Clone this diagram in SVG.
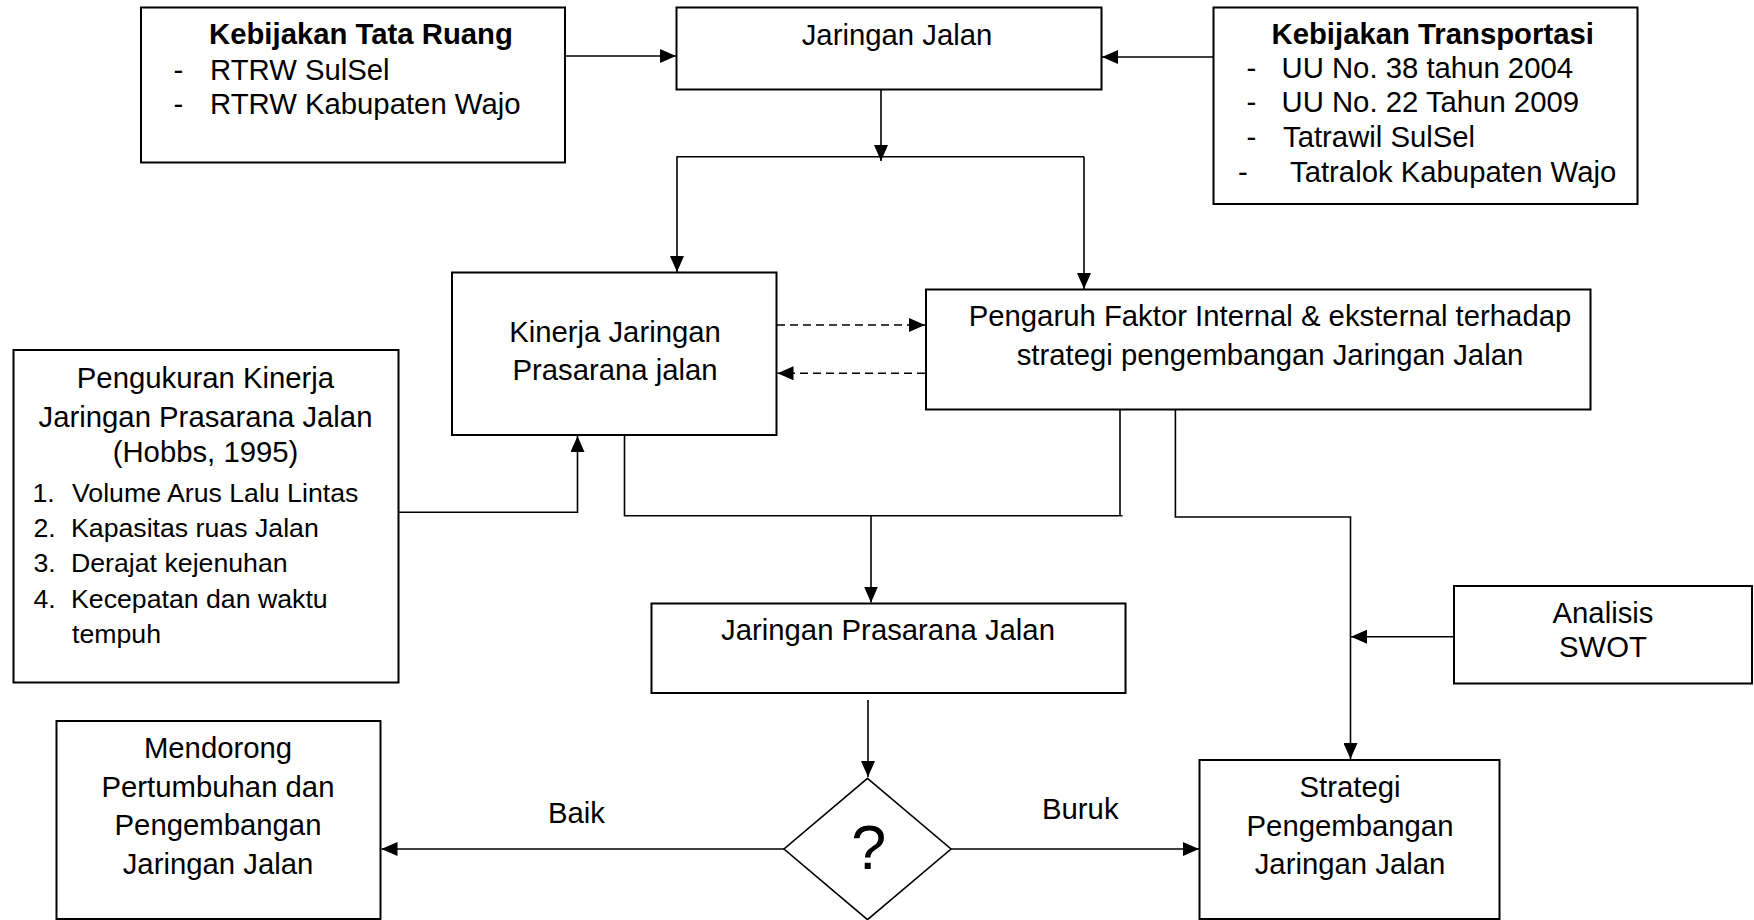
<svg xmlns="http://www.w3.org/2000/svg" width="1754" height="920" viewBox="0 0 1754 920">
<style>
.box{fill:#fff;stroke:#000;stroke-width:2}
.t{font-family:"Liberation Sans",Arial,sans-serif;font-size:29.3px;fill:#000}
.b{font-weight:bold}
.s{font-size:26.7px}
.m{text-anchor:middle}
.c{fill:none;stroke:#000;stroke-width:1.6}
.d{stroke-dasharray:8 5}
</style>
<defs>
<marker id="ah" markerUnits="userSpaceOnUse" markerWidth="16" markerHeight="14" refX="16" refY="7" orient="auto">
<path d="M0,0 L16,7 L0,14 z" fill="#000"/>
</marker>
</defs>
<rect width="1754" height="920" fill="#fff"/>
<g id="connectors">
<line class="c" x1="566" y1="56" x2="676" y2="56" marker-end="url(#ah)"/>
<line class="c" x1="1213" y1="57" x2="1102" y2="57" marker-end="url(#ah)"/>
<line class="c" x1="881" y1="90" x2="881" y2="161" marker-end="url(#ah)"/>
<line class="c" x1="676.5" y1="156.7" x2="1084" y2="156.7"/>
<line class="c" x1="677" y1="156.7" x2="677" y2="272" marker-end="url(#ah)"/>
<line class="c" x1="1084" y1="156.7" x2="1084" y2="289" marker-end="url(#ah)"/>
<line class="c d" x1="777" y1="325" x2="925" y2="325" marker-end="url(#ah)"/>
<line class="c d" x1="925" y1="373.3" x2="777.5" y2="373.3" marker-end="url(#ah)"/>
<polyline class="c" points="399,512.3 577.5,512.3 577.5,436" marker-end="url(#ah)"/>
<polyline class="c" points="624.5,435 624.5,515.7 1122.5,515.7"/>
<line class="c" x1="1120" y1="409.5" x2="1120" y2="515.7"/>
<line class="c" x1="871" y1="515.7" x2="871" y2="602.5" marker-end="url(#ah)"/>
<line class="c" x1="868" y1="700" x2="868" y2="777" marker-end="url(#ah)"/>
<polyline class="c" points="1175.4,409.5 1175.4,517 1350.5,517 1350.5,759" marker-end="url(#ah)"/>
<line class="c" x1="1454" y1="636.7" x2="1351" y2="636.7" marker-end="url(#ah)"/>
<line class="c" x1="784" y1="849" x2="381.5" y2="849" marker-end="url(#ah)"/>
<line class="c" x1="951" y1="849" x2="1199" y2="849" marker-end="url(#ah)"/>
</g>
<g id="kebijakan-tata-ruang">
<rect class="box" x="141" y="7.5" width="424" height="155"/>
<text class="t b" x="209" y="44">Kebijakan Tata Ruang</text>
<text class="t" x="173.5" y="80">-</text>
<text class="t" x="210" y="80">RTRW SulSel</text>
<text class="t" x="173.5" y="114">-</text>
<text class="t" x="210" y="114">RTRW Kabupaten Wajo</text>
</g>
<g id="jaringan-jalan">
<rect class="box" x="676.5" y="7.5" width="425" height="82"/>
<text class="t m" x="897" y="45">Jaringan Jalan</text>
</g>
<g id="kebijakan-transportasi">
<rect class="box" x="1213.5" y="7.5" width="424" height="196.5"/>
<text class="t b" x="1271.5" y="43.5">Kebijakan Transportasi</text>
<text class="t" x="1246.4" y="77.5">-</text>
<text class="t" x="1281.5" y="77.5">UU No. 38 tahun 2004</text>
<text class="t" x="1246.4" y="111.5">-</text>
<text class="t" x="1281.5" y="111.5">UU No. 22 Tahun 2009</text>
<text class="t" x="1246.4" y="146.5">-</text>
<text class="t" x="1283" y="146.5">Tatrawil SulSel</text>
<text class="t" x="1238" y="181.5">-</text>
<text class="t" x="1290" y="181.5">Tatralok Kabupaten Wajo</text>
</g>
<g id="kinerja">
<rect class="box" x="452" y="272.5" width="324.5" height="162.5"/>
<text class="t m" x="615" y="342">Kinerja Jaringan</text>
<text class="t m" x="615" y="380">Prasarana jalan</text>
</g>
<g id="pengaruh">
<rect class="box" x="926" y="289.5" width="664.5" height="120"/>
<text class="t m" x="1270" y="325.5">Pengaruh Faktor Internal &amp; eksternal terhadap</text>
<text class="t m" x="1270" y="365">strategi pengembangan Jaringan Jalan</text>
</g>
<g id="pengukuran">
<rect class="box" x="13.5" y="350" width="385" height="332.5"/>
<text class="t m" x="205.5" y="388.3">Pengukuran Kinerja</text>
<text class="t m" x="205.5" y="426.7">Jaringan Prasarana Jalan</text>
<text class="t m" x="205.5" y="462">(Hobbs, 1995)</text>
<text class="t s" x="32.5" y="501.7">1.</text>
<text class="t s" x="72" y="501.7">Volume Arus Lalu Lintas</text>
<text class="t s" x="33.5" y="537.3">2.</text>
<text class="t s" x="71" y="537.3">Kapasitas ruas Jalan</text>
<text class="t s" x="33.5" y="571.7">3.</text>
<text class="t s" x="71" y="571.7">Derajat kejenuhan</text>
<text class="t s" x="33.5" y="608.3">4.</text>
<text class="t s" x="71" y="608.3">Kecepatan dan waktu</text>
<text class="t s" x="72" y="643.3">tempuh</text>
</g>
<g id="jaringan-prasarana">
<rect class="box" x="651.5" y="603.5" width="474" height="89.5"/>
<text class="t m" x="888" y="639.5">Jaringan Prasarana Jalan</text>
</g>
<g id="swot">
<rect class="box" x="1454" y="586" width="298" height="97.5"/>
<text class="t m" x="1603" y="623">Analisis</text>
<text class="t m" x="1603" y="657">SWOT</text>
</g>
<g id="mendorong">
<rect class="box" x="56.5" y="721" width="324" height="198"/>
<text class="t m" x="218" y="758">Mendorong</text>
<text class="t m" x="218" y="796.5">Pertumbuhan dan</text>
<text class="t m" x="218" y="835">Pengembangan</text>
<text class="t m" x="218" y="873.5">Jaringan Jalan</text>
</g>
<g id="strategi">
<rect class="box" x="1199.5" y="760" width="300" height="159"/>
<text class="t m" x="1350" y="796.5">Strategi</text>
<text class="t m" x="1350" y="836">Pengembangan</text>
<text class="t m" x="1350" y="874">Jaringan Jalan</text>
</g>
<g id="keputusan">
<polygon points="867.5,778.3 951,849 867.5,919.7 784,849" fill="#fff" stroke="#000" stroke-width="1.6"/>
<text class="t m" x="868.8" y="869" style="font-size:63px">?</text>
</g>
<g id="labels">
<text class="t" x="548" y="823">Baik</text>
<text class="t" x="1042" y="818.5">Buruk</text>
</g>
</svg>
